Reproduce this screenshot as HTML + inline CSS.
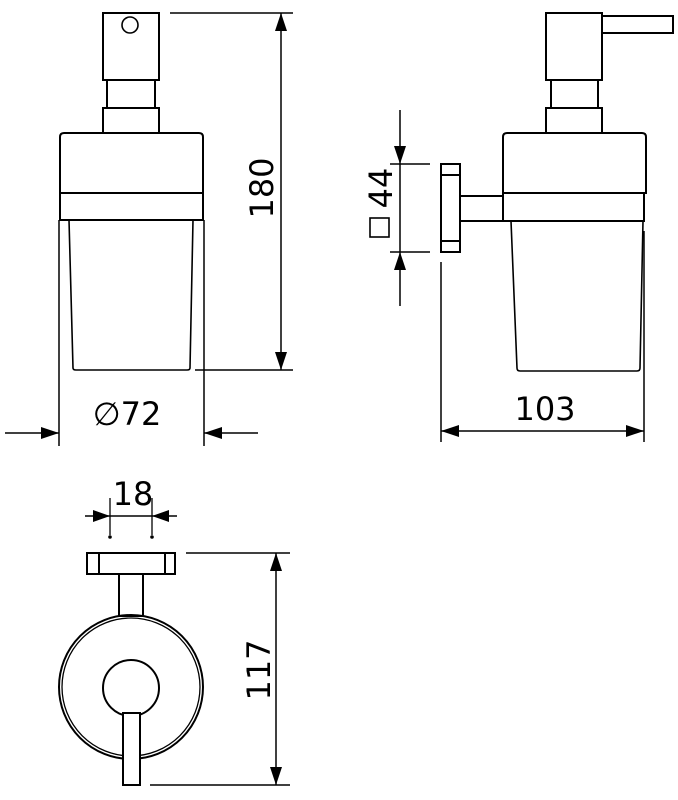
<!DOCTYPE html>
<html><head><style>html,body{margin:0;padding:0;background:#fff}svg{display:block}</style></head>
<body>
<svg width="678" height="800" viewBox="0 0 678 800" xmlns="http://www.w3.org/2000/svg">
<g fill="none" stroke="#000" stroke-width="2">
<rect x="103" y="13" width="56" height="67"/>
<circle cx="130" cy="25" r="8" stroke-width="1.6"/>
<rect x="107" y="80" width="48" height="28"/>
<rect x="103" y="108" width="56" height="25"/>
<path d="M60,193 L60,137 Q60,133 64,133 L199,133 Q203,133 203,137 L203,193 Z"/>
<rect x="60" y="193" width="143" height="27"/>
<path d="M69,220 L73,368 Q73,370 76,370 L187,370 Q190,370 190,368 L193,220" stroke-width="1.6"/>
<line x1="59" y1="220" x2="59" y2="446" stroke-width="1.5"/>
<line x1="204" y1="220" x2="204" y2="446" stroke-width="1.5"/>
<line x1="5" y1="433" x2="59" y2="433" stroke-width="1.5"/>
<line x1="258" y1="433" x2="204" y2="433" stroke-width="1.5"/>
<line x1="170" y1="13" x2="293" y2="13" stroke-width="1.5"/>
<line x1="195" y1="370" x2="293" y2="370" stroke-width="1.5"/>
<line x1="281" y1="13" x2="281" y2="370" stroke-width="1.5"/>
<rect x="546" y="13" width="56" height="67"/>
<rect x="602" y="16" width="71" height="17"/>
<rect x="551" y="80" width="47" height="28"/>
<rect x="546" y="108" width="56" height="25"/>
<path d="M503,193 L503,137 Q503,133 507,133 L642,133 Q646,133 646,137 L646,193 Z"/>
<rect x="503" y="193" width="141" height="28"/>
<path d="M511,221 L517,368 Q517,371 520,371 L637,371 Q640,371 640,368 L643,221" stroke-width="1.6"/>
<rect x="441" y="164" width="19" height="88"/>
<line x1="441" y1="175" x2="460" y2="175"/>
<line x1="441" y1="241" x2="460" y2="241"/>
<rect x="460" y="196" width="43" height="25"/>
<line x1="400" y1="110" x2="400" y2="306" stroke-width="1.5"/>
<line x1="390" y1="164" x2="430" y2="164" stroke-width="1.5"/>
<line x1="390" y1="252" x2="430" y2="252" stroke-width="1.5"/>
<rect x="370" y="218" width="19" height="19" stroke-width="1.6"/>
<line x1="441" y1="262" x2="441" y2="442" stroke-width="1.5"/>
<line x1="644" y1="231" x2="644" y2="442" stroke-width="1.5"/>
<line x1="441" y1="431" x2="644" y2="431" stroke-width="1.5"/>
<line x1="85" y1="516" x2="177" y2="516" stroke-width="1.5"/>
<line x1="110" y1="498" x2="110" y2="535" stroke-width="1.3"/>
<line x1="152" y1="498" x2="152" y2="535" stroke-width="1.3"/>
<rect x="87" y="553" width="88" height="21"/>
<line x1="99" y1="553" x2="99" y2="574"/>
<line x1="165" y1="553" x2="165" y2="574"/>
<rect x="119" y="574" width="24" height="42"/>
<circle cx="131" cy="687" r="72"/>
<circle cx="131" cy="687" r="69" stroke-width="1.3"/>
<circle cx="131" cy="688" r="28"/>
<rect x="123" y="713" width="17" height="72" fill="#fff"/>
<line x1="186" y1="553" x2="290" y2="553" stroke-width="1.5"/>
<line x1="150" y1="785" x2="290" y2="785" stroke-width="1.5"/>
<line x1="276" y1="553" x2="276" y2="785" stroke-width="1.5"/>
</g>
<g fill="#000">
<path d="M59,433 L41,427 L41,439 Z"/>
<path d="M204,433 L222,427 L222,439 Z"/>
<path d="M281,13 L275,31 L287,31 Z"/>
<path d="M281,370 L275,352 L287,352 Z"/>
<path d="M400,164 L394,146 L406,146 Z"/>
<path d="M400,252 L394,270 L406,270 Z"/>
<path d="M441,431 L459,425 L459,437 Z"/>
<path d="M644,431 L626,425 L626,437 Z"/>
<path d="M110,516 L93,510 L93,522 Z"/>
<path d="M152,516 L169,510 L169,522 Z"/>
<path d="M276,553 L270,571 L282,571 Z"/>
<path d="M276,785 L270,767 L282,767 Z"/>
<circle cx="110" cy="537" r="1.8"/>
<circle cx="152" cy="537" r="1.8"/>
</g>
<g font-family="'DejaVu Sans','Liberation Sans',sans-serif" font-size="32" fill="#000">
<text x="127" y="425" text-anchor="middle">∅72</text>
<text x="545" y="420" text-anchor="middle">103</text>
<text x="133" y="505" text-anchor="middle">18</text>
<text transform="translate(273,188) rotate(-90)" text-anchor="middle">180</text>
<text transform="translate(392,188) rotate(-90)" text-anchor="middle">44</text>
<text transform="translate(270,670) rotate(-90)" text-anchor="middle">117</text>
</g>
</svg>
</body></html>
